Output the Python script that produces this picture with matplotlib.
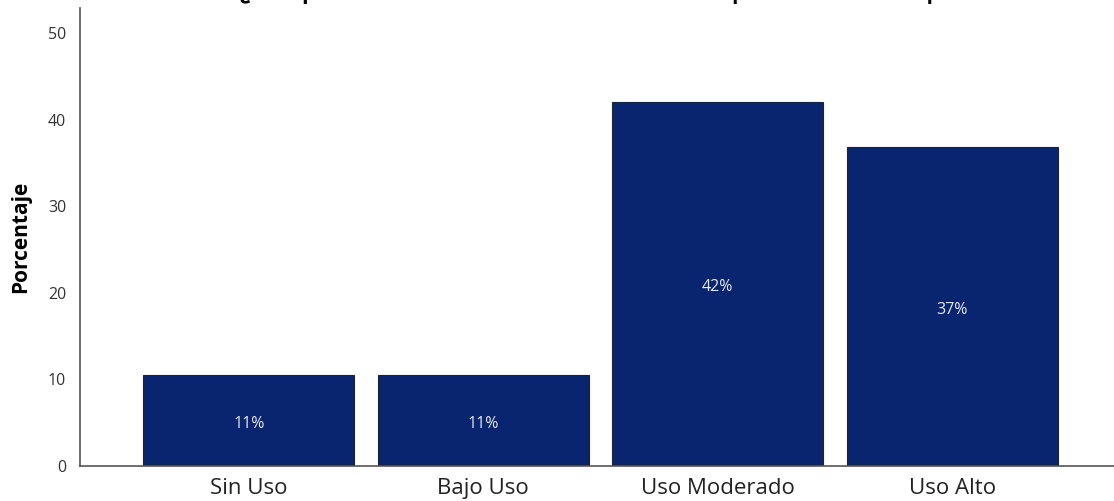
import matplotlib.pyplot as plt
import numpy as np

categorias = ['Sin Uso', 'Bajo Uso', 'Uso Moderado', 'Uso Alto']
porcentajes = [10.5, 10.5, 42.1, 36.8]
etiquetas = ['11%', '11%', '42%', '37%']
titulo = '¿Con qué frecuencia los estudiantes utilizan dispositivos de este tipo?'

plt.rcParams['font.family'] = ['Open Sans', 'DejaVu Sans']

fig = plt.figure(figsize=(11.14, 5.01), dpi=100)
ax = fig.add_axes([0.0718, 0.0699, 0.9282, 0.9141])

x = np.arange(len(categorias))
barras = ax.bar(x, porcentajes, width=0.9, color='#0a2570', edgecolor='#222222', linewidth=0.8)

for b, txt in zip(barras, etiquetas):
    ax.text(b.get_x() + b.get_width() / 2, b.get_height() / 2 - 0.4, txt,
            ha='center', va='center', color='#e8e8f0', fontsize=11.5)

ax.set_xlim(-0.72, 3.69)
ax.set_ylim(0, 52.9)
ax.set_yticks([0, 10, 20, 30, 40, 50])
ax.set_xticks(x)
ax.set_xticklabels(categorias, fontsize=16, color='#222222')
ax.tick_params(axis='y', length=0, labelsize=11.5, labelcolor='#333333', pad=10)
ax.tick_params(axis='x', length=0, pad=9)
ax.set_ylabel('Porcentaje', fontsize=15, fontweight='bold', labelpad=12)

for s in ['top', 'right']:
    ax.spines[s].set_visible(False)
for s in ['left', 'bottom']:
    ax.spines[s].set_color('#555555')
    ax.spines[s].set_linewidth(1.2)

fig.text(0.54, 1.002, titulo, ha='center', va='baseline', fontsize=15, fontweight='bold')

fig.savefig('out.png', dpi=100)
